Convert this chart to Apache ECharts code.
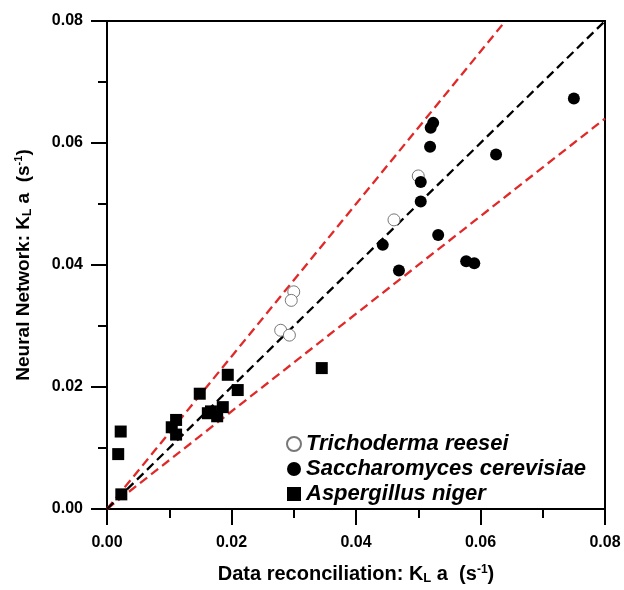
<!DOCTYPE html>
<html>
<head>
<meta charset="utf-8">
<script src="https://cdn.jsdelivr.net/npm/echarts@6/dist/echarts.min.js"></script>
<style>html,body{margin:0;padding:0;background:#fff}#c{width:624px;height:590px}</style>
</head>
<body>
<div id="c"></div>
<script>
const xTicks = [0, 0.02, 0.04, 0.06, 0.08];
const trichoderma = [[0.0500,0.0546],[0.0461,0.0474],[0.0300,0.0356],[0.0296,0.0342],[0.0279,0.0293],[0.0293,0.0285]];
const saccharomyces = [[0.0750,0.0673],[0.0524,0.0633],[0.0520,0.0625],[0.0519,0.0594],[0.0625,0.0581],[0.0504,0.0536],[0.0504,0.0504],[0.0532,0.0449],[0.0443,0.0433],[0.0469,0.0391],[0.0577,0.0406],[0.0590,0.0403]];
const aspergillus = [[0.0345,0.0231],[0.0194,0.0220],[0.0149,0.0189],[0.0210,0.0195],[0.0186,0.0167],[0.0167,0.0160],[0.0162,0.0157],[0.0177,0.0152],[0.0111,0.0146],[0.0104,0.0134],[0.0111,0.0122],[0.0022,0.0127],[0.0018,0.0090],[0.0023,0.0024]];
const parityLine = [[0,0],[0.08,0.08]];
const upperLine = [[0,0],[0.064,0.08]];
const lowerLine = [[0,0],[0.08,0.064]];

const chart = echarts.init(document.getElementById('c'), null, {renderer:'canvas'});
const font = 'Liberation Sans, Arial, sans-serif';
function rich(sz){
  return {
    a: {fontSize:sz, fontWeight:'bold', fontFamily:font, color:'#000'},
    sub: {fontSize:Math.round(sz*0.65), fontWeight:'bold', fontFamily:font, color:'#000', padding:[9,0,0,0]},
    sup: {fontSize:Math.round(sz*0.6), fontWeight:'bold', fontFamily:font, color:'#000', padding:[0,0,9,0]}
  };
}
function axisCommon(){
  return {
    type:'value', min:0, max:0.08, interval:0.02,
    axisLine:{show:true, lineStyle:{color:'#000', width:2}},
    axisTick:{show:true, inside:false, length:16, lineStyle:{color:'#000', width:2}},
    minorTick:{show:true, splitNumber:2, length:9, lineStyle:{color:'#000', width:2}},
    splitLine:{show:false},
    axisLabel:{fontSize:16, fontWeight:'bold', fontFamily:font, color:'#000', margin:24,
      formatter: v => v.toFixed(2)}
  };
}
const xAxis = Object.assign(axisCommon(), {
  name:'{a|Data reconciliation: K}{sub|L}{a| a  (s}{sup|-1}{a|)}',
  nameLocation:'middle', nameGap:54, nameTextStyle:{rich:rich(20)}
});
const yAxis = Object.assign(axisCommon(), {
  name:'{a|Neural Network: K}{sub|L}{a| a  (s}{sup|-1}{a|)}',
  nameLocation:'middle', nameGap:73, nameTextStyle:{rich:rich(19)}
});
xAxis.axisLabel.margin = 26;
yAxis.axisLabel.margin = 24;

function lineSeries(data, color){
  return {type:'line', data:data, symbol:'none', silent:true, z:1,
    lineStyle:{color:color, width:2.3, type:[9,5]}};
}
chart.setOption({
  animation:false,
  backgroundColor:'#fff',
  grid:{left:107, right:19, top:21, bottom:72, show:true, borderColor:'#000', borderWidth:2},
  xAxis: xAxis,
  yAxis: yAxis,
  legend:{
    data:['Trichoderma reesei','Saccharomyces cerevisiae','Aspergillus niger'],
    orient:'vertical', left:281, top:428, itemGap:3, itemWidth:14, itemHeight:14,
    textStyle:{fontSize:22, fontWeight:'bold', fontStyle:'italic', fontFamily:font, color:'#000'}
  },
  series:[
    lineSeries(upperLine,'#e02a2a'),
    lineSeries(lowerLine,'#e02a2a'),
    lineSeries(parityLine,'#000'),
    {name:'Trichoderma reesei', type:'scatter', data:trichoderma, symbol:'circle', symbolSize:12, z:3,
      itemStyle:{color:'#fff', borderColor:'#777', borderWidth:1, opacity:1}},
    {name:'Saccharomyces cerevisiae', type:'scatter', data:saccharomyces, symbol:'circle', symbolSize:12, z:3,
      itemStyle:{color:'#000', opacity:1}},
    {name:'Aspergillus niger', type:'scatter', data:aspergillus, symbol:'rect', symbolSize:12, z:3,
      itemStyle:{color:'#000', opacity:1}}
  ]
});
</script>
</body>
</html>
